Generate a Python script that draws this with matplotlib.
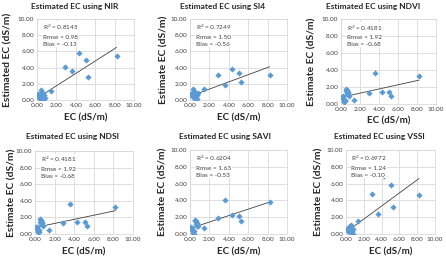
import matplotlib
matplotlib.use("Agg")
import matplotlib.pyplot as plt
import numpy as np

plt.rcParams['font.family'] = ['Lato', 'DejaVu Sans']

# ---- data ----
ec = [0.1, 0.2, 0.25, 0.3, 0.35, 0.4, 0.45, 0.5, 0.55, 0.6, 0.65, 0.7, 0.75, 0.8,
      1.4, 2.9, 3.6, 4.3, 5.1, 5.3, 8.2]

est_nir = [0.7, 0.5, 0.3, 0.8, 0.2, 0.6, 1.2, 0.4, 0.1, 0.9, 0.5, 0.3, 0.6, 0.2,
           1.1, 4.1, 3.6, 5.8, 5.0, 2.8, 5.4]
est_si4 = [0.7, 0.5, 0.9, 0.6, 1.4, 0.3, 0.8, 1.0, 0.5, 0.7, 0.4, 0.6, 0.1, 0.9,
           1.3, 3.1, 1.9, 3.8, 3.3, 2.2, 3.1]
est_ndvi = [0.8, 0.9, 0.6, 0.4, 0.2, 0.3, 0.5, 1.8, 1.5, 1.2, 1.7, 1.3, 1.4, 1.0,
            0.5, 1.3, 3.6, 1.4, 1.4, 1.0, 3.3]
est_ndsi = [0.8, 0.9, 0.6, 0.4, 0.2, 0.3, 0.5, 1.8, 1.5, 1.2, 1.7, 1.3, 1.4, 1.0,
            0.5, 1.3, 3.6, 1.4, 1.4, 1.0, 3.3]
est_savi = [0.8, 0.7, 0.5, 0.3, 0.1, 0.0, 0.4, 1.7, 1.5, 1.2, 1.6, 1.0, 1.3, 0.9,
            0.7, 1.9, 4.0, 2.3, 2.2, 1.5, 3.85]
est_vssi = [0.6, 0.4, 0.3, 0.8, 0.5, 1.0, 0.2, 0.7, 1.1, 0.9, 0.4, 0.1, 0.6, 0.0,
            1.5, 4.8, 2.4, 6.9, 5.8, 3.2, 4.7]

indices = ["NIR", "SI4", "NDVI", "NDSI", "SAVI", "VSSI"]
series = [est_nir, est_si4, est_ndvi, est_ndsi, est_savi, est_vssi]
trend_slope = [0.765, 0.444, 0.247, 0.247, 0.383, 0.778]
trend_intercept = [0.22, 0.46, 0.78, 0.78, 0.66, 0.22]
r2 = ["0.8145", "0.7249", "0.4181", "0.4181", "0.6204", "0.6972"]
rmse = ["0.98", "1.50", "1.92", "1.92", "1.63", "1.24"]
bias = ["-0.13", "-0.56", "-0.68", "-0.68", "-0.53", "-0.10"]
ylabels = ["Estimated EC (dS/m)", "Estimate EC (dS/m)", "Estimate EC (dS/m)",
           "Estimate EC (dS/m)", "Estimate EC (dS/m)", "Estimate EC (dS/m)"]
ticks = [0, 2, 4, 6, 8, 10]

# ---- layout (pixels) ----
W, H = 446, 259
fig = plt.figure(figsize=(W / 100, H / 100), dpi=100)
fig.patch.set_facecolor("white")

# left, top, right, bottom of plot areas in pixels
boxes = [(37, 19, 134, 100), (190, 19, 287, 100), (341, 19, 436, 104),
         (35, 151, 133, 234), (190, 150, 287, 234), (346, 150, 435, 234)]
title_pos = [(75, 6), (223, 6), (373, 6), (72, 137), (225, 137), (379, 136)]
ylab_x = [8, 164, 312, 12, 163, 319]
xlab_y = [118, 118, 121, 252, 252, 252]

blue = "#5B9BD5"
for i in range(6):
    l, t, r, b = boxes[i]
    ax = fig.add_axes([l / W, 1 - b / H, (r - l) / W, (b - t) / H])
    ax.set_xlim(0, 10)
    ax.set_ylim(0, 10)
    ax.set_xticks(ticks)
    ax.set_yticks(ticks)
    ax.set_xticklabels([f"{v:.2f}" for v in ticks], fontsize=4.6, color="#404040")
    ax.set_yticklabels([f"{v:.2f}" for v in ticks], fontsize=4.6, color="#404040")
    ax.tick_params(length=0, pad=2)
    ax.grid(True, color="#D9D9D9", linewidth=0.6)
    ax.set_axisbelow(True)
    for s in ax.spines.values():
        s.set_color("#D9D9D9")
        s.set_linewidth(0.6)
    ax.scatter(ec, series[i], marker="D", s=10, color=blue, zorder=3, linewidths=0)
    xs = np.array([min(ec), max(ec)])
    ax.plot(xs, trend_slope[i] * xs + trend_intercept[i], color="#404040", lw=0.6, zorder=2)
    txt = f"R$^2$ = {r2[i]}\nRmse = {rmse[i]}\nBias = {bias[i]}"
    ax.text(0.6, 9.5, txt, fontsize=4.6, color="#404040", va="top", ha="left",
            linespacing=1.55, zorder=4,
            bbox=dict(facecolor="white", edgecolor="none", pad=0.3))
    tx, ty = title_pos[i]
    fig.text(tx / W, 1 - ty / H, f"Estimated EC using {indices[i]}", fontsize=6.0,
             fontweight="bold", ha="center", va="center", color="#262626")
    fig.text(ylab_x[i] / W, 1 - ((t + b) / 2) / H, ylabels[i], fontsize=7.4,
             fontweight="bold", rotation=90, ha="center", va="center", color="#262626")
    fig.text(((l + r) / 2) / W, 1 - xlab_y[i] / H, "EC (dS/m)", fontsize=7.0,
             fontweight="bold", ha="center", va="center", color="#262626")

fig.savefig("out.png", dpi=100)
